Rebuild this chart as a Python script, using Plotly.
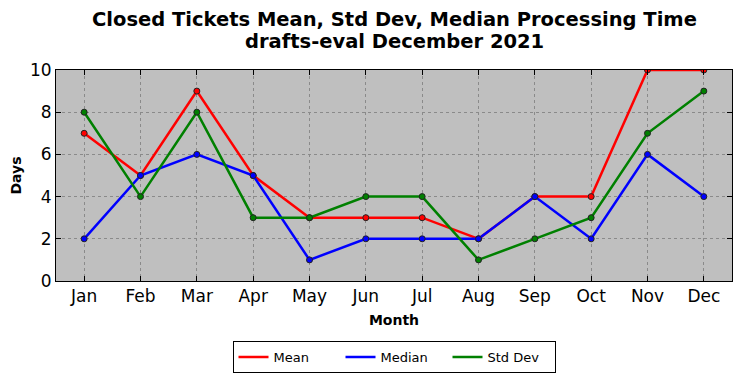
import plotly.graph_objects as go

months = ["Jan", "Feb", "Mar", "Apr", "May", "Jun", "Jul", "Aug", "Sep", "Oct", "Nov", "Dec"]
mean_vals = [7, 5, 9, 5, 3, 3, 3, 2, 4, 4, 10, 10]
median_vals = [2, 5, 6, 5, 1, 2, 2, 2, 4, 2, 6, 4]
std_vals = [8, 4, 8, 3, 3, 4, 4, 1, 2, 3, 7, 9]

series = [("Mean", mean_vals, "#ff0000"), ("Median", median_vals, "#0000ff"), ("Std Dev", std_vals, "#008000")]

fig = go.Figure()
xs = list(range(len(months)))
for name, vals, color in series:
    fig.add_trace(go.Scatter(
        x=xs, y=vals, name=name, mode="lines+markers", showlegend=False,
        line=dict(color=color, width=2.5),
        marker=dict(color=color, size=6, line=dict(color="#222222", width=1)),
    ))
for name, vals, color in series:
    fig.add_trace(go.Scatter(
        x=[None], y=[None], name=name, mode="lines", showlegend=True,
        line=dict(color=color, width=2.5),
    ))

font = "DejaVu Sans"
# page body has ~8px margin, so figure is sized/offset to compensate
W, H = 733, 370
T, B, L, R = 62, 97, 48, 9
PH = H - T - B
fig.update_layout(
    width=W, height=H,
    margin=dict(l=L, r=R, t=T, b=B, autoexpand=False),
    paper_bgcolor="white", plot_bgcolor="#bfbfbf",
    font=dict(family=font, color="black"),
    showlegend=True,
    legend=dict(orientation="h", x=0.5, xanchor="center", y=-(341 - 8 - (T + PH)) / PH, yanchor="top",
                bordercolor="black", borderwidth=1, bgcolor="white",
                font=dict(size=13, family=font), entrywidth=62, tracegroupgap=0),
)
fig.add_annotation(text="<b>Closed Tickets Mean, Std Dev, Median Processing Time</b>",
                   x=0.5, xref="paper", y=1 + (T - 11) / PH, yref="paper", yanchor="middle",
                   showarrow=False, font=dict(size=19.5, family=font))
fig.add_annotation(text="<b>drafts-eval December 2021</b>",
                   x=0.5, xref="paper", y=1 + (T - 33) / PH, yref="paper", yanchor="middle",
                   showarrow=False, font=dict(size=19.5, family=font))
fig.update_xaxes(
    range=[-0.5, 11.5], tickmode="array", tickvals=xs, ticktext=months, automargin=False,
    tickfont=dict(size=17), ticks="inside", ticklen=5, tickcolor="black",
    showline=True, linecolor="black", linewidth=1, mirror="ticks",
    showgrid=True, gridcolor="#8a8a8a", griddash="dot", gridwidth=1, zeroline=False,
    title=dict(text="<b>Month</b>", font=dict(size=14), standoff=9),
)
fig.update_yaxes(
    range=[0, 10], dtick=2, tickfont=dict(size=17), ticks="inside", ticklen=5, tickcolor="black",
    showline=True, linecolor="black", linewidth=1, mirror="ticks", automargin=False,
    showgrid=True, gridcolor="#8a8a8a", griddash="dot", gridwidth=1, zeroline=False,
    title=dict(text="<b>Days</b>", font=dict(size=14), standoff=14),
)
fig.write_html("out.html")
